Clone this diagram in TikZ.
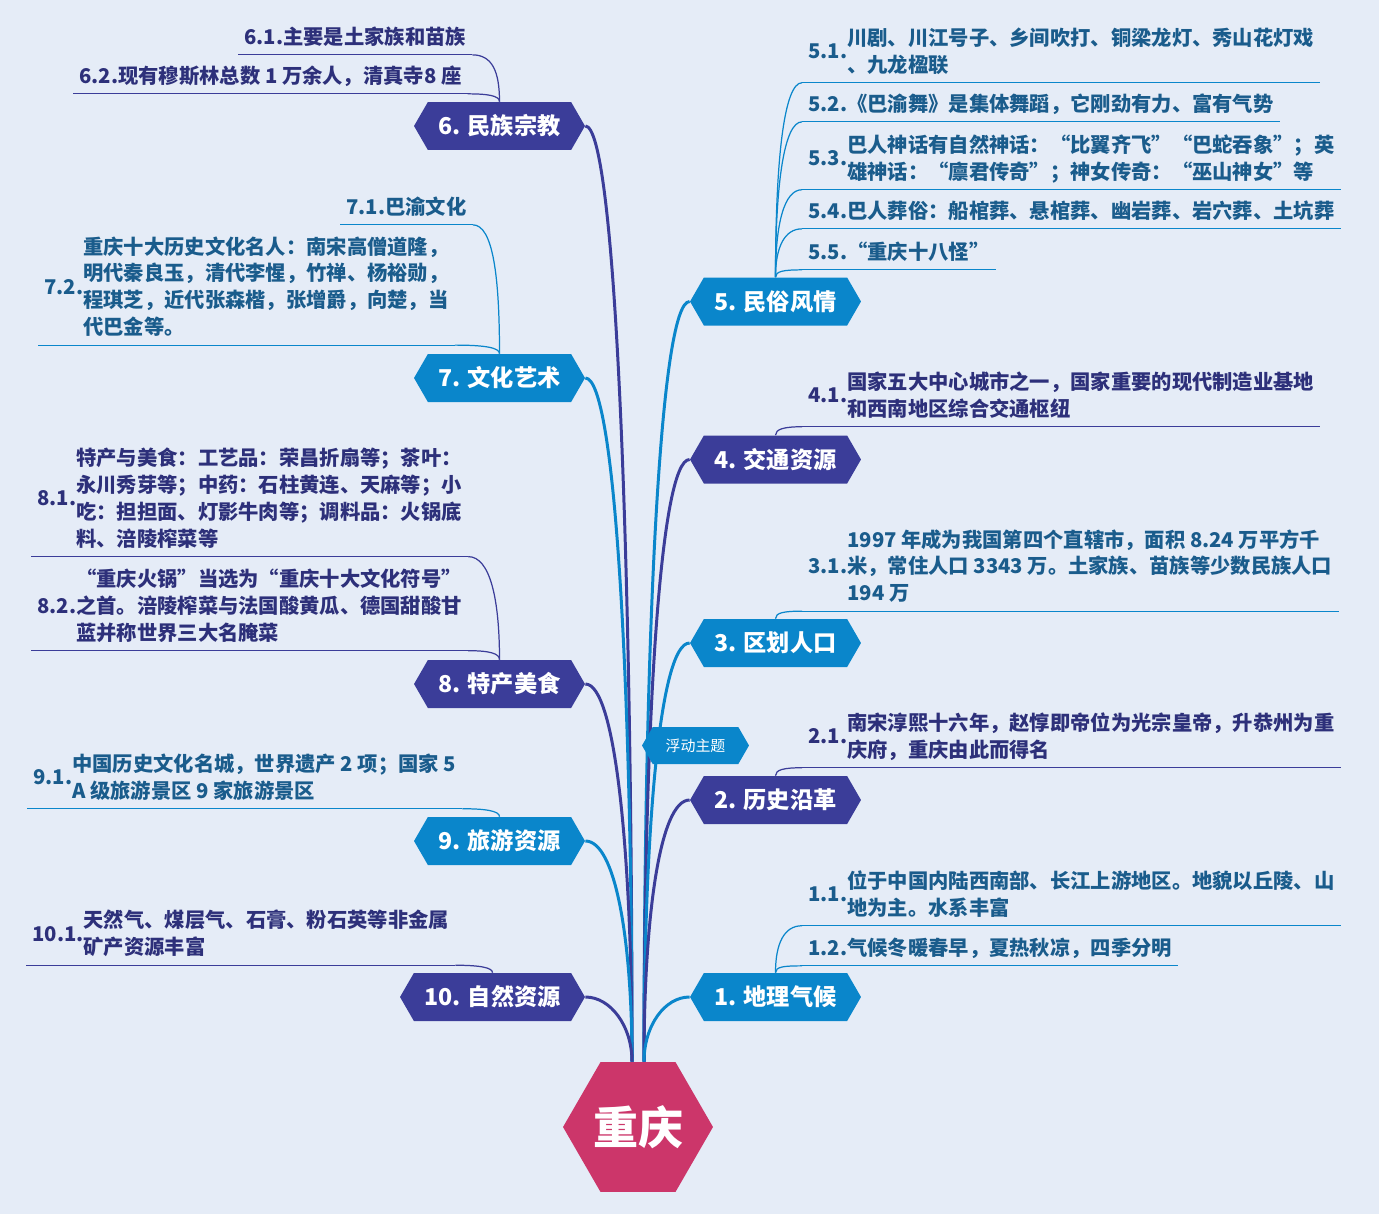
\documentclass[tikz,border=0pt]{standalone}
\usepackage{fontspec}
\setmainfont{Noto Sans CJK SC}
\usetikzlibrary{shapes.symbols,shapes.geometric,calc,backgrounds}

\definecolor{bgcol}{RGB}{229,236,247}
\definecolor{hubcol}{RGB}{204,54,106}
\definecolor{indcol}{RGB}{59,61,153}
\definecolor{blucol}{RGB}{10,134,203}
\definecolor{indtxt}{RGB}{45,48,122}
\definecolor{blutxt}{RGB}{26,92,140}

% label on the left, text lines centred beside it
\newcommand{\subtxt}[2]{\begin{tabular}{@{}l@{}l@{}}#1&\begin{tabular}[c]{@{}l@{}}#2\end{tabular}\end{tabular}}

\begin{document}
\begin{tikzpicture}[
  x=0.02cm, y=-0.02cm,
  main node/.style = {shape=signal, signal to=east and west, signal pointer angle=120,
                      minimum width=3.42cm, minimum height=0.96cm, inner sep=0pt,
                      text=white, font=\fontsize{13.2}{16}\selectfont\bfseries},
  ind node/.style  = {main node, fill=indcol},
  blu node/.style  = {main node, fill=blucol},
  sub node/.style  = {anchor=west, inner xsep=0.12cm, inner ysep=0.04cm,
                      font=\fontsize{11.55}{15.3}\selectfont\bfseries},
  ind sub/.style   = {sub node, text=indtxt},
  blu sub/.style   = {sub node, text=blutxt},
  ind line/.style  = {draw=indcol, line width=1.7pt},
  blu line/.style  = {draw=blucol, line width=1.7pt},
  ind thin/.style  = {draw=indcol, line width=0.7pt},
  blu thin/.style  = {draw=blucol, line width=0.7pt},
]

% ── Centre and main topics ─────────────────────────────────────────────────
\node[regular polygon, regular polygon sides=6, minimum size=3cm, inner sep=0pt,
      fill=hubcol, text=white, font=\fontsize{25.6}{28}\selectfont\bfseries]
  (hub) at (638,1127) {重庆};

% left column
\node[ind node] (t6) at (499.5,126) {6. 民族宗教};
\node[blu node] (t7) at (499.5,378) {7. 文化艺术};
\node[ind node] (t8) at (499.5,684) {8. 特产美食};
\node[blu node] (t9) at (499.5,841) {9. 旅游资源};
\node[ind node, minimum width=3.7cm] (t10) at (492.5,997) {10. 自然资源};

% right column
\node[blu node] (t5) at (775.5,301.5) {5. 民俗风情};
\node[ind node] (t4) at (775.5,459.5) {4. 交通资源};
\node[blu node] (t3) at (775.5,643) {3. 区划人口};
\node[ind node] (t2) at (775.5,800) {2. 历史沿革};
\node[blu node] (t1) at (775.5,997) {1. 地理气候};

% floating topic sits on top of the branches
\node[blu node, minimum width=2.14cm, minimum height=0.74cm,
      font=\fontsize{8.5}{10}\selectfont] (float) at (695.5,745.5) {浮动主题};

% ── Canvas and branches, behind everything ─────────────────────────────────
\begin{pgfonlayer}{background}
\path[use as bounding box, fill=bgcol] (0,0) rectangle (1379,1214);

% out of the hexagon top, vertical first, then into the inner tip
\coordinate (hubL) at ($(hub.north)+(-6,0)$);
\coordinate (hubR) at ($(hub.north)+(6,0)$);

\draw[ind line] (hubL) .. controls +(0,-515) and +(30,0) .. (t6.east);
\draw[blu line] (hubL) .. controls +(0,-376) and +(30,0) .. (t7.east);
\draw[ind line] (hubL) .. controls +(0,-208) and +(30,0) .. (t8.east);
\draw[blu line] (hubL) .. controls +(0,-122) and +(30,0) .. (t9.east);
\draw[ind line] (hubL) .. controls +(0,-36) and +(25,0) .. (t10.east);

\draw[blu line] (hubR) .. controls +(0,-418) and +(-30,0) .. (t5.west);
\draw[ind line] (hubR) .. controls +(0,-332) and +(-30,0) .. (t4.west);
\draw[blu line] (hubR) .. controls +(0,-230) and +(-30,0) .. (t3.west);
\draw[ind line] (hubR) .. controls +(0,-144) and +(-30,0) .. (t2.west);
\draw[blu line] (hubR) .. controls +(0,-36) and +(-25,0) .. (t1.west);
\end{pgfonlayer}

% ── Right subtopics ────────────────────────────────────────────────────────
\node[blu sub] (s51) at (802,53.5)
  {\subtxt{5.1.}{川剧、川江号子、乡间吹打、铜梁龙灯、秀山花灯戏\\、九龙楹联}};
\node[blu sub] (s52) at (802,106)
  {\subtxt{5.2.}{《巴渝舞》是集体舞蹈，它刚劲有力、富有气势}};
\node[blu sub] (s53) at (802,160.5)
  {\subtxt{5.3.}{巴人神话有自然神话：“比翼齐飞”“巴蛇吞象”；英\\雄神话：“廪君传奇”；神女传奇：“巫山神女”等}};
\node[blu sub] (s54) at (802,213)
  {\subtxt{5.4.}{巴人葬俗：船棺葬、悬棺葬、幽岩葬、岩穴葬、土坑葬}};
\node[blu sub] (s55) at (802,254)
  {\subtxt{5.5.}{“重庆十八怪”}};
\node[ind sub] (s41) at (802,397.5)
  {\subtxt{4.1.}{国家五大中心城市之一，国家重要的现代制造业基地\\和西南地区综合交通枢纽}};
\node[blu sub] (s31) at (802,568.5)
  {\subtxt{3.1.}{1997 年成为我国第四个直辖市，面积 8.24 万平方千\\米，常住人口 3343 万。土家族、苗族等少数民族人口\\194 万}};
\node[ind sub] (s21) at (802,738.5)
  {\subtxt{2.1.}{南宋淳熙十六年，赵惇即帝位为光宗皇帝，升恭州为重\\庆府，重庆由此而得名}};
\node[blu sub] (s11) at (802,896.5)
  {\subtxt{1.1.}{位于中国内陆西南部、长江上游地区。地貌以丘陵、山\\地为主。水系丰富}};
\node[blu sub] (s12) at (802,950)
  {\subtxt{1.2.}{气候冬暖春早，夏热秋凉，四季分明}};

% underlines
\foreach \s in {s51,s52,s53,s54,s55,s31,s11,s12}
  \draw[blu thin] (\s.south west) -- (\s.south east);
\foreach \s in {s41,s21}
  \draw[ind thin] (\s.south west) -- (\s.south east);

% from the topic top up into each underline
\draw[blu thin] (t5.north) .. controls +(0,-117) and +(-18,0) .. (s51.south west);
\draw[blu thin] (t5.north) .. controls +(0,-93) and +(-18,0) .. (s52.south west);
\draw[blu thin] (t5.north) .. controls +(0,-53) and +(-18,0) .. (s53.south west);
\draw[blu thin] (t5.north) .. controls +(0,-29) and +(-18,0) .. (s54.south west);
\draw[blu thin] (t5.north) .. controls +(0,-6) and +(-18,0) .. (s55.south west);
\draw[ind thin] (t4.north) .. controls +(0,-6) and +(-18,0) .. (s41.south west);
\draw[blu thin] (t3.north) .. controls +(0,-6) and +(-18,0) .. (s31.south west);
\draw[ind thin] (t2.north) .. controls +(0,-6) and +(-18,0) .. (s21.south west);
\draw[blu thin] (t1.north) .. controls +(0,-29) and +(-18,0) .. (s11.south west);
\draw[blu thin] (t1.north) .. controls +(0,-6) and +(-18,0) .. (s12.south west);

% ── Left subtopics ─────────────────────────────────────────────────────────
\node[ind sub] (s61) at (238,39)
  {\subtxt{6.1.}{主要是土家族和苗族}};
\node[ind sub] (s62) at (73,78)
  {\subtxt{6.2.}{现有穆斯林总数 1 万余人，清真寺8 座}};
\node[blu sub] (s71) at (340,209)
  {\subtxt{7.1.}{巴渝文化}};
\node[blu sub] (s72) at (38,289)
  {\subtxt{7.2.}{重庆十大历史文化名人：南宋高僧道隆，\\明代秦良玉，清代李惺，竹禅、杨裕勋，\\程琪芝，近代张森楷，张增爵，向楚，当\\代巴金等。}};
\node[ind sub] (s81) at (31,500.5)
  {\subtxt{8.1.}{特产与美食：工艺品：荣昌折扇等；茶叶：\\永川秀芽等；中药：石柱黄连、天麻等；小\\吃：担担面、灯影牛肉等；调料品：火锅底\\料、涪陵榨菜等}};
\node[ind sub] (s82) at (31,608)
  {\subtxt{8.2.}{“重庆火锅”当选为“重庆十大文化符号”\\之首。涪陵榨菜与法国酸黄瓜、德国甜酸甘\\蓝并称世界三大名腌菜}};
\node[blu sub] (s91) at (27,779.5)
  {\subtxt{9.1.}{中国历史文化名城，世界遗产 2 项；国家 5\\A 级旅游景区 9 家旅游景区}};
\node[ind sub] (s101) at (26,936)
  {\subtxt{10.1.}{天然气、煤层气、石膏、粉石英等非金属\\矿产资源丰富}};

% underlines
\foreach \s in {s61,s62,s81,s82,s101}
  \draw[ind thin] (\s.south west) -- (\s.south east);
\foreach \s in {s71,s72,s91}
  \draw[blu thin] (\s.south west) -- (\s.south east);

\draw[ind thin] (t6.north) .. controls +(0,-30) and +(20,0) .. (s61.south east);
\draw[ind thin] (t6.north) .. controls +(0,-6) and +(20,0) .. (s62.south east);
\draw[blu thin] (t7.north) .. controls +(0,-78) and +(20,0) .. (s71.south east);
\draw[blu thin] (t7.north) .. controls +(0,-6) and +(30,0) .. (s72.south east);
\draw[ind thin] (t8.north) .. controls +(0,-60) and +(22,0) .. (s81.south east);
\draw[ind thin] (t8.north) .. controls +(0,-6) and +(22,0) .. (s82.south east);
\draw[blu thin] (t9.north) .. controls +(0,-6) and +(22,0) .. (s91.south east);
\draw[ind thin] (t10.north) .. controls +(0,-5) and +(25,0) .. (s101.south east);

\end{tikzpicture}
\end{document}
